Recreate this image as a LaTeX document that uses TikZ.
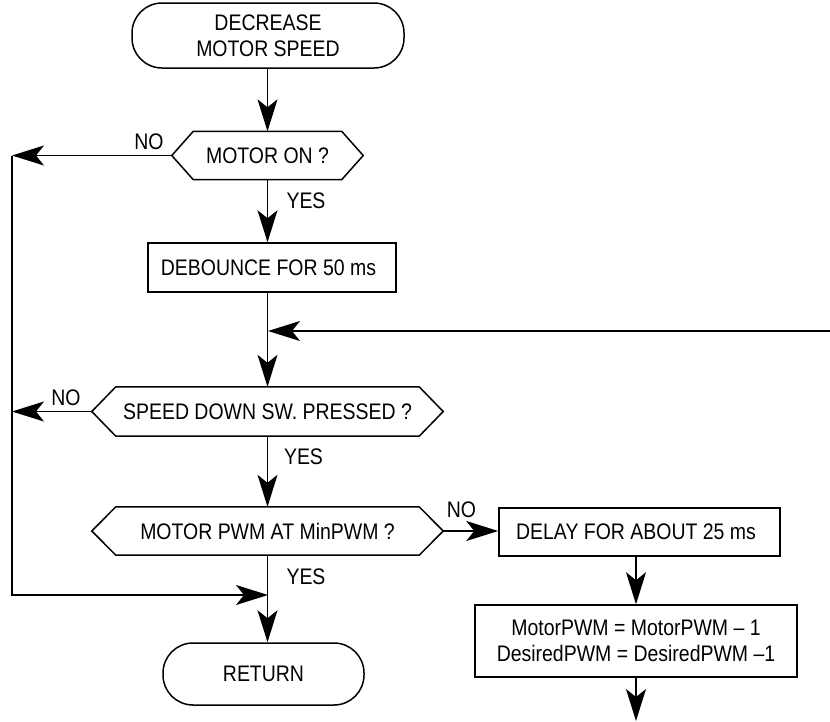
\documentclass[tikz,border=0pt]{standalone}
\usepackage{fontspec}
\setmainfont{Liberation Sans}[FakeStretch=0.865]
\usetikzlibrary{arrows.meta}
\newcommand\hexdraw[2]{\draw[ln] (#1.west) -- ([xshift=#2]#1.north west) -- ([xshift=-#2]#1.north east) -- (#1.east) -- ([xshift=-#2]#1.south east) -- ([xshift=#2]#1.south west) -- cycle;}
\begin{document}
\begin{tikzpicture}[x=1pt,y=-1pt,
  ln/.style={line width=1.5pt, line join=miter},
  arr/.style={ln, -{Stealth[length=32pt,width=20pt,inset=8pt]}},
  txt/.style={font=\fontsize{22.5}{26}\selectfont, inner sep=0pt},
  term/.style={txt, draw, line width=1.5pt, rounded corners=30pt, align=center},
  boxn/.style={txt, draw, line width=1.5pt, align=center},
  hexn/.style={txt, minimum height=48pt}
]
\useasboundingbox[fill=white] (0,0) rectangle (830,721);

% nodes
\node[term, minimum width=272pt, minimum height=65pt] (start) at (268,35.5) {DECREASE\\MOTOR SPEED};
\node[hexn, minimum width=191pt] (q1) at (267.5,155.5) {MOTOR ON ?};
\hexdraw{q1}{21.5pt}
\node[boxn, minimum width=248pt, minimum height=49pt] (deb) at (272,267.5) {\kern-7pt DEBOUNCE FOR 50 ms};
\node[hexn, minimum width=351pt, minimum height=49pt] (q2) at (267.5,411.5) {SPEED DOWN SW. PRESSED ?};
\hexdraw{q2}{24pt}
\node[hexn, minimum width=351pt] (q3) at (267.5,531) {MOTOR PWM AT MinPWM ?};
\hexdraw{q3}{24pt}
\node[term, minimum width=201pt, minimum height=62pt] (ret) at (263.5,674) {RETURN};
\node[boxn, minimum width=281pt, minimum height=48pt] (delay) at (639.5,532) {\kern-7pt DELAY FOR ABOUT 25 ms};
\node[boxn, minimum width=322pt, minimum height=72pt] (calc) at (636,641) {MotorPWM = MotorPWM -- 1\\DesiredPWM = DesiredPWM --1};

% labels
\node[txt] (no1) at (149,141.5) {NO};
\node[txt] (yes1) at (306,201) {YES};
\node[txt] (no2) at (66,398) {NO};
\node[txt] (yes2) at (303.5,457) {YES};
\node[txt] (no3) at (461.5,510) {NO};
\node[txt] (yes3) at (306,577) {YES};

% helper coordinates
\coordinate (lft) at (12,155.5);
\coordinate (ja) at (268,331);
\coordinate (jb) at (268,595);
\coordinate (rgt) at (830,331);
\coordinate (fin) at (636,721);

% connectors
\draw[arr] (q1.north |- start.south) -- (q1.north);
\draw[arr] (q1.south) -- (q1.south |- deb.north);
\draw[arr] (q2.north |- deb.south) -- (q2.north);
\draw[arr] (rgt) -- (ja);
\draw[arr] (q2.south) -- (q3.north);
\draw[arr] (q3.south) -- (q3.south |- ret.north);
\draw[arr] (q1.west) -- (lft);
\draw[arr] (q2.west) -- (q2.west -| lft);
\draw[arr] (lft) -- (lft |- jb) -- (jb);
\draw[arr] (q3.east) -- (q3.east -| delay.west);
\draw[arr] (calc.north |- delay.south) -- (calc.north);
\draw[arr] (calc.south) -- (fin);
\end{tikzpicture}
\end{document}
